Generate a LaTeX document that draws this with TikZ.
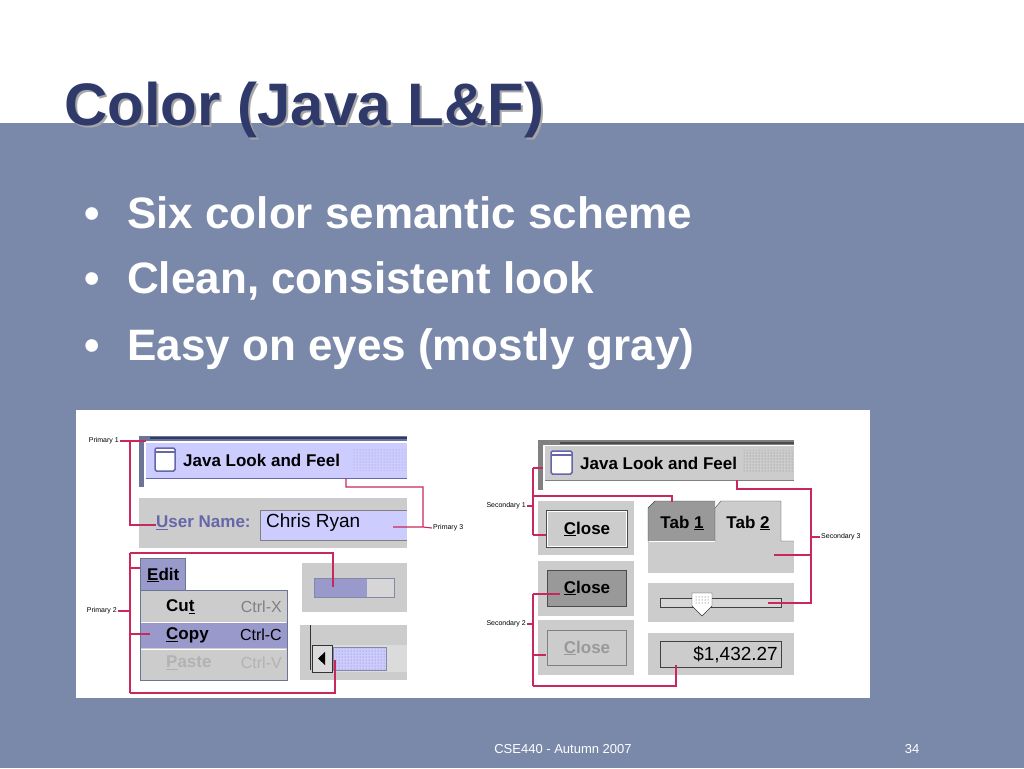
\documentclass[tikz,border=0pt]{standalone}
\usepackage{fontspec}
\setmainfont{Liberation Sans}
\usetikzlibrary{patterns}
\definecolor{slate}{HTML}{7A89AA}
\definecolor{navy}{HTML}{2F3A6B}
\definecolor{lav}{HTML}{CCCCFF}
\definecolor{lavd}{HTML}{9999CC}
\definecolor{pane}{HTML}{CCCCCC}
\definecolor{dgray}{HTML}{999999}
\definecolor{callout}{HTML}{C8285A}
\definecolor{uname}{HTML}{6666AA}
\tikzset{
 call/.style={draw=callout,line width=1.1pt},
 lbl/.style={font=\fontsize{7}{8}\selectfont,inner sep=1pt},
 ui/.style={font=\bfseries\fontsize{17}{20}\selectfont,inner sep=0pt},
 uir/.style={font=\fontsize{19}{21}\selectfont,inner sep=0pt},
 ctrl/.style={font=\fontsize{16}{18}\selectfont,inner sep=0pt,anchor=east},
 bullet/.style={font=\bfseries\fontsize{44}{48}\selectfont,text=white,anchor=base west,inner sep=0pt},
 foot/.style={font=\fontsize{13}{15}\selectfont,text=white,inner sep=0pt},
}
\begin{document}
\begin{tikzpicture}[x=1pt,y=-1pt]
\useasboundingbox (0,0) rectangle (1024,768);
\fill[white] (0,0) rectangle (1024,123);
\fill[slate] (0,123) rectangle (1024,768);
% title
\node[font=\bfseries\fontsize{60}{64}\selectfont,text=gray!70,anchor=base west,inner sep=0pt] (tshadow) at (66,127) {Color (Java L\&F)};
\node[font=\bfseries\fontsize{60}{64}\selectfont,text=navy,anchor=base west,inner sep=0pt] (title) at (64,125) {Color (Java L\&F)};
% bullets
\foreach \y/\t [count=\i] in {228/Six color semantic scheme,293/{Clean, consistent look},360/Easy on eyes (mostly gray)}{
 \node[bullet] (b\i) at (84,\y) {•};
 \node[bullet] (bt\i) at (127,\y) {\t};
}
% screenshot panel
\fill[white] (76,410) rectangle (870,698);
%%% LEFT
\fill[navy!70] (139,436) rectangle (407,487);
\fill[white] (144,441) rectangle (407,487);
\draw[navy,line width=1.5pt] (150,438) -- (407,438);
\fill[lav] (146,443) rectangle (407,478);
\draw[uname] (146,478) -- (407,478);
\draw[uname,line width=1.5pt,fill=white,rounded corners=1.5] (155,448) rectangle (175,471);
\draw[uname,line width=2pt] (155,452) -- (175,452);
\node[ui,anchor=west] (jl) at (183,460) {Java Look and Feel};
\fill[pattern=dots,pattern color=lavd] (353,448) rectangle (407,470);
\fill[pane] (139,498) rectangle (407,548);
\node[ui,text=uname,anchor=west] (un) at (156,523) {\underline{U}ser Name:};
\fill[lav] (260,510) rectangle (407,540);
\draw[gray] (407,510) -- (260,510) -- (260,540) -- (407,540);
\node[uir,anchor=west] (cr) at (266,523) {Chris Ryan};
% edit menu
\fill[lavd] (140,558) rectangle (185,590);
\draw[navy!70] (140,590) -- (140,558) -- (185,558) -- (185,590);
\node[ui,anchor=west] (edit) at (147,575) {\underline{E}dit};
\fill[pane] (140,590) rectangle (287,680);
\fill[lavd] (140,623) rectangle (287,648);
\draw[navy!70] (140,590) rectangle (287,680);
\draw[white] (141,622) -- (286,622) (141,649) -- (286,649);
\node[ui,anchor=west] (cut) at (166,607) {Cu\underline{t}};
\node[ctrl,text=gray] (cx) at (282,607) {Ctrl-X};
\node[ui,anchor=west] (copy) at (166,635) {\underline{C}opy};
\node[ctrl] (cc) at (282,635) {Ctrl-C};
\node[ui,text=gray!60,anchor=west] (paste) at (166,663) {\underline{P}aste};
\node[ctrl,text=gray!60] (cv) at (282,663) {Ctrl-V};
% progress
\fill[pane] (302,563) rectangle (407,612);
\fill[pane!80] (314,578) rectangle (394,597);
\fill[lavd] (314,578) rectangle (367,597);
\draw[navy!60,line width=1pt] (314,578) rectangle (394,597);
% scrollbar
\fill[pane] (300,625) rectangle (407,680);
\draw[gray!40!black] (310,625) -- (310,670);
\fill[pane!70] (312,645) rectangle (407,672);
\draw[gray!40!black] (312,645) rectangle (332,672);
\fill (325,652) -- (325,665) -- (318,658.5) -- cycle;
\fill[lav] (333,647) rectangle (386,670);
\fill[pattern=dots,pattern color=lavd!80!black] (333,647) rectangle (386,670);
\draw[navy!60] (333,647) rectangle (386,670);
% callouts left
\node[lbl,anchor=east] (p1) at (120,441) {Primary 1};
\draw[call] (p1.east) -- (146,441) (130,441) -- (130,525) -- (156,525);
\node[lbl,anchor=west] (p3) at (432,528) {Primary 3};
\draw[call] (346,478) -- (346,487) -- (423,487) -- (423,527) -- (p3.west) (423,527) -- (393,527);
\node[lbl,anchor=east] (p2) at (118,611) {Primary 2};
\draw[call] (p2.east) -- (130,611) (130,553) -- (130,693) (130,553) -- (333,553) -- (333,587)
 (130,568) -- (140,568) (130,634) -- (150,634) (130,693) -- (335,693) -- (335,660);
%%% RIGHT
\fill[gray] (538,440) rectangle (794,490);
\fill[white] (543,445) rectangle (794,490);
\draw[gray!60!black,line width=1.5pt] (560,443) -- (794,443);
\fill[pane] (545,446) rectangle (794,480);
\draw[gray] (545,480) -- (794,480);
\draw[uname,line width=1.5pt,fill=white,rounded corners=1.5] (551,451) rectangle (572,474);
\draw[uname,line width=2pt] (551,455) -- (572,455);
\node[ui,anchor=west] (jr) at (580,463) {Java Look and Feel};
\fill[pattern=dots,pattern color=gray] (742,450) rectangle (794,472);
% buttons
\fill[pane] (538,501) rectangle (634,555);
\draw[gray!60!black,fill=pane] (546,510) rectangle (627,547);
\draw[white] (547,511) rectangle (626,546);
\node[ui,anchor=center] (c1) at (587,529) {\underline{C}lose};
\fill[pane] (538,561) rectangle (634,616);
\draw[gray!60!black,fill=dgray] (547,570) rectangle (626,606);
\node[ui,anchor=center] (c2) at (587,588) {\underline{C}lose};
\fill[pane] (538,620) rectangle (634,675);
\draw[gray] (547,630) rectangle (626,665);
\node[ui,text=gray!80,anchor=center] (c3) at (587,648) {\underline{C}lose};
% tabs
\fill[pane] (648,541) rectangle (794,573);
\fill[dgray] (648,541) -- (648,508) -- (655,501) -- (715,501) -- (715,541) -- cycle;
\draw[gray!50!black] (648,541) -- (648,508) -- (655,501) -- (715,501);
\fill[pane] (715,541) -- (715,508) -- (721,501) -- (781,501) -- (781,541) -- cycle;
\draw[gray!50!black] (715,541) -- (715,508) -- (721,501) -- (781,501) -- (781,541) -- (794,541);
\draw[white] (649,541) -- (715,541);
\node[ui,anchor=center] (t1) at (682,523) {Tab \underline{1}};
\node[ui,anchor=center] (t2) at (748,523) {Tab \underline{2}};
% slider
\fill[pane] (648,583) rectangle (794,622);
\draw[gray!50!black,fill=pane!80] (660,598) rectangle (781,607);
\draw[gray!40!black,fill=white] (692,593) -- (712,593) -- (712,606) -- (702,616) -- (692,606) -- cycle;
\fill[pattern=dots,pattern color=gray!60!black] (694,595) rectangle (710,604);
% money
\fill[pane] (648,633) rectangle (794,675);
\draw[gray!50!black] (660,641) rectangle (781,667);
\node[uir,anchor=east] (money) at (778,655) {\$1,432.27};
% callouts right
\node[lbl,anchor=east] (s1) at (527,506) {Secondary 1};
\draw[call] (s1.east) -- (533,506) (533,468) -- (533,535) (533,468) -- (543,468) (533,535) -- (546,535)
 (533,496) -- (672,496) -- (672,502);
\node[lbl,anchor=east] (s2) at (527,624) {Secondary 2};
\draw[call] (s2.east) -- (533,624) (533,594) -- (533,686) (533,594) -- (560,594) (533,655) -- (546,655)
 (533,686) -- (676,686) -- (676,665);
\node[lbl,anchor=west] (s3) at (820,537) {Secondary 3};
\draw[call] (737,480) -- (737,489) -- (811,489) -- (811,603) -- (768,603) (811,555) -- (774,555) (811,537) -- (s3.west);
% footer
\node[foot] (f1) at (563,749) {CSE440 - Autumn 2007};
\node[foot] (f2) at (912,749) {34};
\end{tikzpicture}
\end{document}
